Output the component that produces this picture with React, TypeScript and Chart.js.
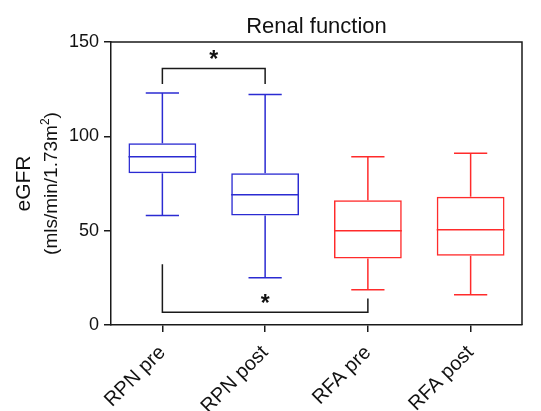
import React, { useEffect, useRef } from 'react';
import { Chart, registerables } from 'chart.js';

Chart.register(...registerables);

const categories = ['RPN pre', 'RPN post', 'RFA pre', 'RFA post'];
const whiskerMin = [58, 25, 18.7, 16];
const q1 = [80.4, 58, 35.3, 36.7];
const median = [89.2, 69.1, 50, 50.5];
const q3 = [96.3, 80.4, 66.1, 68];
const whiskerMax = [123, 122.2, 89.2, 91];
const boxColors = ['#2b2bd2', '#2b2bd2', '#ff2b2b', '#ff2b2b'];
const yTickValues = [0, 50, 100, 150];

// significance brackets
const bracketFrom = [0, 0];
const bracketTo = [1, 2];
const bracketLevel = [136, 6.7];
const bracketLeftEnd = [127.7, 32.2];
const bracketRightEnd = [127.7, 14.1];
const bracketLabel = ['*', '*'];

const titleText = 'Renal function';
const yTitleMain = 'eGFR';
const yTitleUnit = '(mls/min/1.73m';
const yTitleSup = '2';

const FONT = "'Liberation Sans', Arial, sans-serif";
const AXIS_COLOR = '#1a1a1a';

const extrasPlugin = {
  id: 'extras',
  afterDatasetsDraw(chart: any) {
    const ctx = chart.ctx;
    const ys = chart.scales.y;
    const xs = chart.scales.x;
    const area = chart.chartArea;
    const meta = chart.getDatasetMeta(0);
    ctx.save();
    const seg = (x1: number, y1: number, x2: number, y2: number) => {
      ctx.beginPath();
      ctx.moveTo(x1, y1);
      ctx.lineTo(x2, y2);
      ctx.stroke();
    };
    // box extras
    meta.data.forEach((bar: any, i: number) => {
      const w = bar.width;
      const cx = bar.x;
      const cap = w * 0.245;
      ctx.strokeStyle = boxColors[i];
      ctx.lineWidth = 1.5;
      const pMed = ys.getPixelForValue(median[i]);
      seg(cx - w / 2, pMed, cx + w / 2, pMed);
      const pMax = ys.getPixelForValue(whiskerMax[i]);
      const pQ3 = ys.getPixelForValue(q3[i]);
      const pQ1 = ys.getPixelForValue(q1[i]);
      const pMin = ys.getPixelForValue(whiskerMin[i]);
      seg(cx, pQ3, cx, pMax);
      seg(cx - cap, pMax, cx + cap, pMax);
      seg(cx, pQ1, cx, pMin);
      seg(cx - cap, pMin, cx + cap, pMin);
    });
    // brackets
    ctx.strokeStyle = AXIS_COLOR;
    ctx.fillStyle = '#111';
    ctx.lineWidth = 1.5;
    for (let k = 0; k < bracketFrom.length; k++) {
      const xa = xs.getPixelForValue(bracketFrom[k]);
      const xb = xs.getPixelForValue(bracketTo[k]);
      const yl = ys.getPixelForValue(bracketLevel[k]);
      const ya = ys.getPixelForValue(bracketLeftEnd[k]);
      const yb = ys.getPixelForValue(bracketRightEnd[k]);
      ctx.beginPath();
      ctx.moveTo(xa, ya);
      ctx.lineTo(xa, yl);
      ctx.lineTo(xb, yl);
      ctx.lineTo(xb, yb);
      ctx.stroke();
      ctx.font = `bold 23px ${FONT}`;
      ctx.textAlign = 'center';
      ctx.textBaseline = 'alphabetic';
      ctx.fillText(bracketLabel[k], (xa + xb) / 2, yl - 1);
    }
    // frame top & right
    ctx.strokeStyle = AXIS_COLOR;
    ctx.lineWidth = 1.5;
    ctx.beginPath();
    ctx.moveTo(area.left, area.top);
    ctx.lineTo(area.right, area.top);
    ctx.lineTo(area.right, area.bottom);
    ctx.stroke();
    // title
    ctx.fillStyle = '#111';
    ctx.font = `22px ${FONT}`;
    ctx.textAlign = 'center';
    ctx.textBaseline = 'alphabetic';
    ctx.fillText(titleText, (area.left + area.right) / 2, 33);
    // y titles
    const cy = (area.top + area.bottom) / 2;
    ctx.save();
    ctx.translate(30, cy);
    ctx.rotate(-Math.PI / 2);
    ctx.font = `21px ${FONT}`;
    ctx.fillText(yTitleMain, 0, 0);
    ctx.restore();
    ctx.save();
    ctx.translate(57, cy);
    ctx.rotate(-Math.PI / 2);
    ctx.font = `19px ${FONT}`;
    const wMain = ctx.measureText(yTitleUnit).width;
    ctx.font = `12px ${FONT}`;
    const wSup = ctx.measureText(yTitleSup).width;
    ctx.font = `19px ${FONT}`;
    const wClose = ctx.measureText(')').width;
    const total = wMain + wSup + wClose;
    let x0 = -total / 2;
    ctx.textAlign = 'left';
    ctx.fillText(yTitleUnit, x0, 0);
    x0 += wMain;
    ctx.font = `12px ${FONT}`;
    ctx.fillText(yTitleSup, x0, -8);
    x0 += wSup;
    ctx.font = `19px ${FONT}`;
    ctx.fillText(')', x0, 0);
    ctx.restore();
    ctx.restore();
  },
};

export default function App() {
  const ref = useRef<HTMLCanvasElement | null>(null);
  useEffect(() => {
    if (!ref.current) return;
    const chart = new Chart(ref.current, {
      type: 'bar',
      data: {
        labels: categories,
        datasets: [
          {
            data: categories.map((_, i) => [q1[i], q3[i]]) as any,
            backgroundColor: 'rgba(0,0,0,0)',
            borderColor: boxColors,
            borderWidth: 1.5,
            borderSkipped: false,
            categoryPercentage: 1,
            barPercentage: 0.66,
          },
        ],
      },
      options: {
        responsive: false,
        animation: false,
        events: [],
        layout: { padding: { top: 42, right: 19, left: 0, bottom: 0 } },
        plugins: { legend: { display: false }, tooltip: { enabled: false }, title: { display: false } },
        scales: {
          x: {
            offset: true,
            grid: {
              display: true,
              offset: false,
              drawOnChartArea: false,
              drawTicks: true,
              tickLength: 7,
              color: AXIS_COLOR,
              lineWidth: 1.5,
            },
            border: { display: true, color: AXIS_COLOR, width: 1.5 },
            ticks: {
              color: '#111',
              font: { size: 20, family: FONT },
              maxRotation: 45,
              minRotation: 45,
              padding: 9,
            },
            afterFit: (scale: any) => {
              scale.height = 86;
            },
          },
          y: {
            min: 0,
            max: 150,
            afterBuildTicks: (scale: any) => {
              scale.ticks = yTickValues.map((v) => ({ value: v }));
            },
            grid: {
              display: true,
              drawOnChartArea: false,
              drawTicks: true,
              tickLength: 7,
              color: AXIS_COLOR,
              lineWidth: 1.5,
            },
            border: { display: true, color: AXIS_COLOR, width: 1.5 },
            ticks: {
              color: '#111',
              font: { size: 18, family: FONT },
              padding: 5,
            },
            afterFit: (scale: any) => {
              scale.width = 111;
            },
          },
        },
      },
      plugins: [extrasPlugin],
    });
    return () => chart.destroy();
  }, []);
  return (
    <div style={{ position: 'fixed', left: 0, top: 0, width: 541, height: 411, background: '#fff' }}>
      <canvas ref={ref} width={541} height={411} style={{ display: 'block' }} />
    </div>
  );
}
